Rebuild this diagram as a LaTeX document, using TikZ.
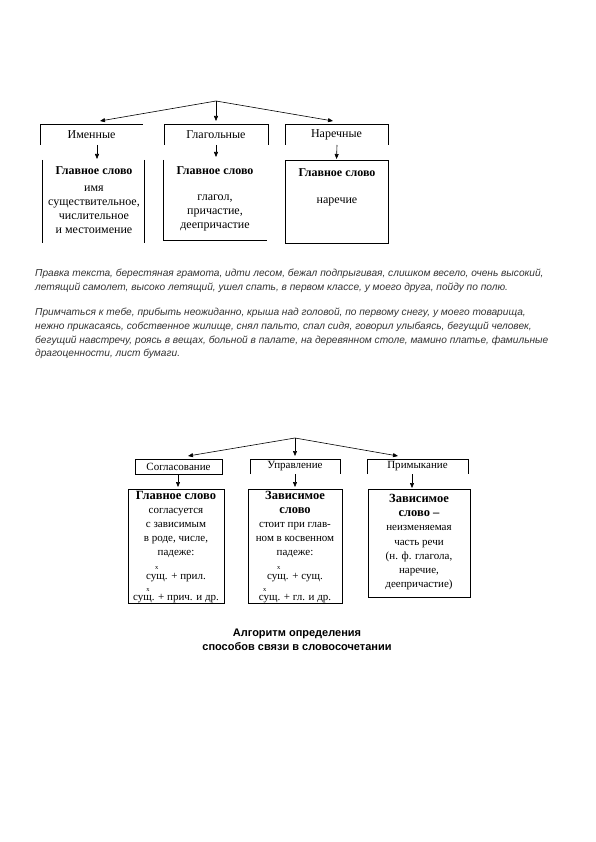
\documentclass[tikz,border=0pt]{standalone}
\usepackage{fontspec}
\setmainfont{Liberation Serif}
\setsansfont{Liberation Sans}
\usetikzlibrary{arrows.meta}
\newcommand\xup[1]{\makebox[0pt][l]{\hspace{#1}\raisebox{9.5pt}{\fontsize{6.5}{6.5}\selectfont x}}}
\newcommand\hdf{\fontsize{12.5}{14}\selectfont\bfseries}
\begin{document}
\begin{tikzpicture}[x=1pt,y=-1pt,
  ln/.style={line width=0.6pt},
  tip/.style={ln,-{Triangle[length=5pt,width=4pt]}},
  box/.style={inner sep=0pt, outer sep=0pt, draw=none},
  lab/.style={box, font=\fontsize{12}{14}\selectfont},
  labb/.style={box, font=\fontsize{11}{13}\selectfont},
  txt/.style={align=center, inner sep=0pt, anchor=north, font=\fontsize{12}{14}\selectfont},
  txtb/.style={align=center, inner sep=0pt, anchor=north, font=\fontsize{11}{14}\selectfont},
  para/.style={align=left, inner sep=0pt, anchor=north west, font=\sffamily\itshape\fontsize{10.15}{13.9}\selectfont, text=black!80},
  captxt/.style={align=center, inner sep=0pt, anchor=north, font=\sffamily\bfseries\fontsize{11}{14}\selectfont},
]
\useasboundingbox (0,0) rectangle (595,842);
\fill[white] (0,0) rectangle (595,842);

% ---------- top diagram ----------
\coordinate (A1) at (216,101);
\node[lab, minimum width=103pt, minimum height=21pt] (c1) at (91.5,134.5) {Именные};
\node[lab, minimum width=104pt, minimum height=21pt] (c2) at (216,134.5) {Глагольные};
\node[lab, minimum width=103pt, minimum height=21pt] (c3) at (336.5,134.5) {Наречные};
\draw[ln] (c1.south west) -- (c1.north west) -- (c1.north east);
\draw[ln] (c2.south west) -- (c2.north west) -- (c2.north east) -- (c2.south east);
\draw[ln] (c3.south west) -- (c3.north west) -- (c3.north east) -- (c3.south east);

\node[box, minimum width=102pt, minimum height=83pt] (b1) at (93,201.5) {};
\node[box, minimum width=104pt, minimum height=80pt] (b2) at (215,200) {};
\node[box, minimum width=103pt, minimum height=83pt] (b3) at (336.5,201.5) {};
\draw[ln] (b1.north west) -- (b1.south west);
\draw[ln] (b1.north east) -- (b1.south east);
\draw[ln] (b2.north west) -- (b2.south west) -- (b2.south east);
\draw[ln] (b3.north west) rectangle (b3.south east);

\draw[tip] (A1) -- ([xshift=8.5pt,yshift=3pt]c1.north);
\draw[tip] (A1) -- ([yshift=3pt]c2.north);
\draw[tip] (A1) -- ([xshift=-3.5pt,yshift=3pt]c3.north);
\draw[tip] ([xshift=5.5pt]c1.south) -- ([xshift=4pt,yshift=1pt]b1.north);
\draw[tip] (c2.south) -- ([xshift=1pt,yshift=3pt]b2.north);
\draw[tip] ([xshift=0.5pt]c3.south) -- ([yshift=1pt]b3.north);

\node[txt] (t1) at (94,166) {\textbf{Главное слово}\\[3pt] имя\\ существительное,\\ числительное\\ и местоимение};
\node[txt] (t2) at (215,166) {\textbf{Главное слово}\\[12pt] глагол,\\ причастие,\\ деепричастие};
\node[txt] (t3) at (337,168) {\textbf{Главное слово}\\[13pt] наречие};

% ---------- paragraphs ----------
\node[para] (p1) at (35,268.5) {Правка текста, берестяная грамота, идти лесом, бежал подпрыгивая, слишком весело, очень высокий,\\
летящий самолет, высоко летящий, ушел спать, в первом классе, у моего друга, пойду по полю.};
\node[para] (p2) at (35,307.5) {Примчаться к тебе, прибыть неожиданно, крыша над головой, по первому снегу, у моего товарища,\\
нежно прикасаясь, собственное жилище, снял пальто, спал сидя, говорил улыбаясь, бегущий человек,\\
бегущий навстречу, роясь в вещах, больной в палате, на деревянном столе, мамино платье, фамильные\\
драгоценности, лист бумаги.};

% ---------- bottom diagram ----------
\coordinate (A2) at (295,438);
\node[labb, minimum width=87pt, minimum height=15pt] (cs) at (178.5,466.5) {Согласование};
\node[labb, minimum width=90pt, minimum height=15pt] (cu) at (295,466.5) {Управление};
\node[labb, minimum width=101pt, minimum height=15pt] (cp) at (417.5,466.5) {Примыкание};
\draw[ln] (cs.south west) rectangle (cs.north east);
\draw[ln] (cu.south west) -- (cu.north west) -- (cu.north east) -- (cu.south east);
\draw[ln] (cp.south west) -- (cp.north west) -- (cp.north east) -- (cp.south east);

\node[box, minimum width=96pt, minimum height=114pt] (d1) at (176,546) {};
\node[box, minimum width=94pt, minimum height=114pt] (d2) at (295,546) {};
\node[box, minimum width=102pt, minimum height=108pt] (d3) at (419,543) {};
\draw[ln] (d1.north west) rectangle (d1.south east);
\draw[ln] (d2.north west) rectangle (d2.south east);
\draw[ln] (d3.north west) rectangle (d3.south east);

\draw[tip] (A2) -- ([xshift=9.5pt,yshift=3pt]cs.north);
\draw[tip] (A2) -- ([yshift=3pt]cu.north);
\draw[tip] (A2) -- ([xshift=-19.5pt,yshift=3pt]cp.north);
\draw[tip] ([xshift=-0.5pt]cs.south) -- ([xshift=2pt,yshift=2pt]d1.north);
\draw[tip] (cu.south) -- ([yshift=2pt]d2.north);
\draw[tip] ([xshift=-5.5pt]cp.south) -- ([xshift=-7pt,yshift=1pt]d3.north);

\node[txtb] (u1) at (176,491) {{\hdf Главное слово}\\ согласуется\\ с зависимым\\ в роде, числе,\\ падеже:\\[8pt] \xup{0.8em}сущ. + прил.\\[6pt] \xup{1.2em}сущ. + прич. и др.};
\node[txtb] (u2) at (295,491) {{\hdf Зависимое}\\ {\hdf слово}\\ стоит при глав-\\ ном в косвенном\\ падеже:\\[8pt] \xup{0.9em}сущ. + сущ.\\[6pt] \xup{0.4em}сущ. + гл. и др.};
\node[txtb, font=\fontsize{11}{14.2}\selectfont] (u3) at (419,494) {{\hdf Зависимое}\\ {\hdf слово –}\\ неизменяемая\\ часть речи\\ (н. ф. глагола,\\ наречие,\\ деепричастие)};

\node[captxt] (cap) at (297,628.5) {Алгоритм определения\\ способов связи в словосочетании};
\end{tikzpicture}
\end{document}
